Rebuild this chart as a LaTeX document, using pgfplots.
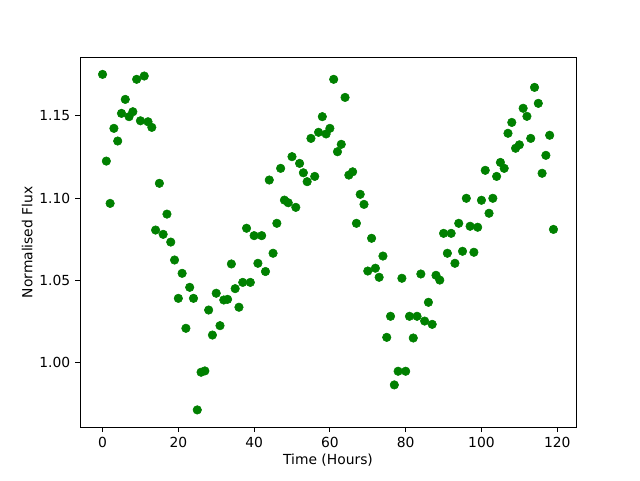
\documentclass[border=0pt]{standalone}
\usepackage{pgfplots}
\pgfplotsset{compat=1.18}
\usepackage{fontspec}
\setmainfont{DejaVu Sans}
\definecolor{mplgreen}{HTML}{008000}
\begin{document}
\fontsize{10.4}{12.5}\selectfont
\begin{tikzpicture}
\begin{axis}[
  name=ax,
  scale only axis,
  width=372pt, height=277.2pt,
  xmin=-5.95, xmax=124.95,
  ymin=0.9608, ymax=1.1854,
  xtick={0,20,40,60,80,100,120},
  ytick={1.00,1.05,1.10,1.15},
  yticklabel style={/pgf/number format/.cd,fixed,fixed zerofill,precision=2},
  /pgf/number format/assume math mode=true,
  tick label style={font=\fontsize{10.4}{12.5}\selectfont},
  label style={font=\fontsize{10.4}{12.5}\selectfont},
  xtick pos=left, ytick pos=left,
  tick align=outside,
  major tick length=3.65pt,
  every tick/.style={black, line width=0.6pt},
  axis line style={line width=0.6pt},
  xlabel={Time (Hours)},
  ylabel={Normalised Flux},
  xlabel style={yshift=2pt},
  ylabel style={yshift=-2pt},
]
\addplot[only marks, mark=*, mark size=3.2pt, color=mplgreen, mark options={draw=mplgreen, fill=mplgreen}] table {
x y
0 1.1752
1 1.1225
2 1.0968
3 1.1424
4 1.1347
5 1.1515
6 1.1600
7 1.1495
8 1.1525
9 1.1722
10 1.1470
11 1.1742
12 1.1464
13 1.1430
14 1.0806
15 1.1090
16 1.0780
17 1.0903
18 1.0733
19 1.0624
20 1.0391
21 1.0543
22 1.0209
23 1.0458
24 1.0391
25 0.9713
26 0.9942
27 0.9950
28 1.0320
29 1.0168
30 1.0422
31 1.0225
32 1.0381
33 1.0385
34 1.0600
35 1.0450
36 1.0337
37 1.0488
38 1.0817
39 1.0488
40 1.0772
41 1.0604
42 1.0772
43 1.0554
44 1.1110
45 1.0665
46 1.0847
47 1.1181
48 1.0988
49 1.0972
50 1.1252
51 1.0944
52 1.1211
53 1.1154
54 1.1100
55 1.1363
56 1.1132
57 1.1400
58 1.1495
59 1.1390
60 1.1424
61 1.1722
62 1.1282
63 1.1327
64 1.1612
65 1.1140
66 1.1160
67 1.0847
68 1.1023
69 1.0962
70 1.0557
71 1.0756
72 1.0574
73 1.0519
74 1.0648
75 1.0154
76 1.0282
77 0.9865
78 0.9948
79 1.0513
80 0.9948
81 1.0282
82 1.0150
83 1.0282
84 1.0539
85 1.0253
86 1.0367
87 1.0233
88 1.0531
89 1.0502
90 1.0786
91 1.0665
92 1.0786
93 1.0604
94 1.0847
95 1.0677
96 1.0999
97 1.0829
98 1.0671
99 1.0823
100 1.0987
101 1.1169
102 1.0908
103 1.0999
104 1.1132
105 1.1217
106 1.1181
107 1.1394
108 1.1460
109 1.1303
110 1.1324
111 1.1546
112 1.1497
113 1.1363
114 1.1673
115 1.1576
116 1.1151
117 1.1260
118 1.1382
119 1.0810
};
\end{axis}
\path[use as bounding box] ([shift={(-60pt,-39.6pt)}]ax.south west) rectangle ([shift={(48pt,43.2pt)}]ax.north east);
\end{tikzpicture}
\end{document}
